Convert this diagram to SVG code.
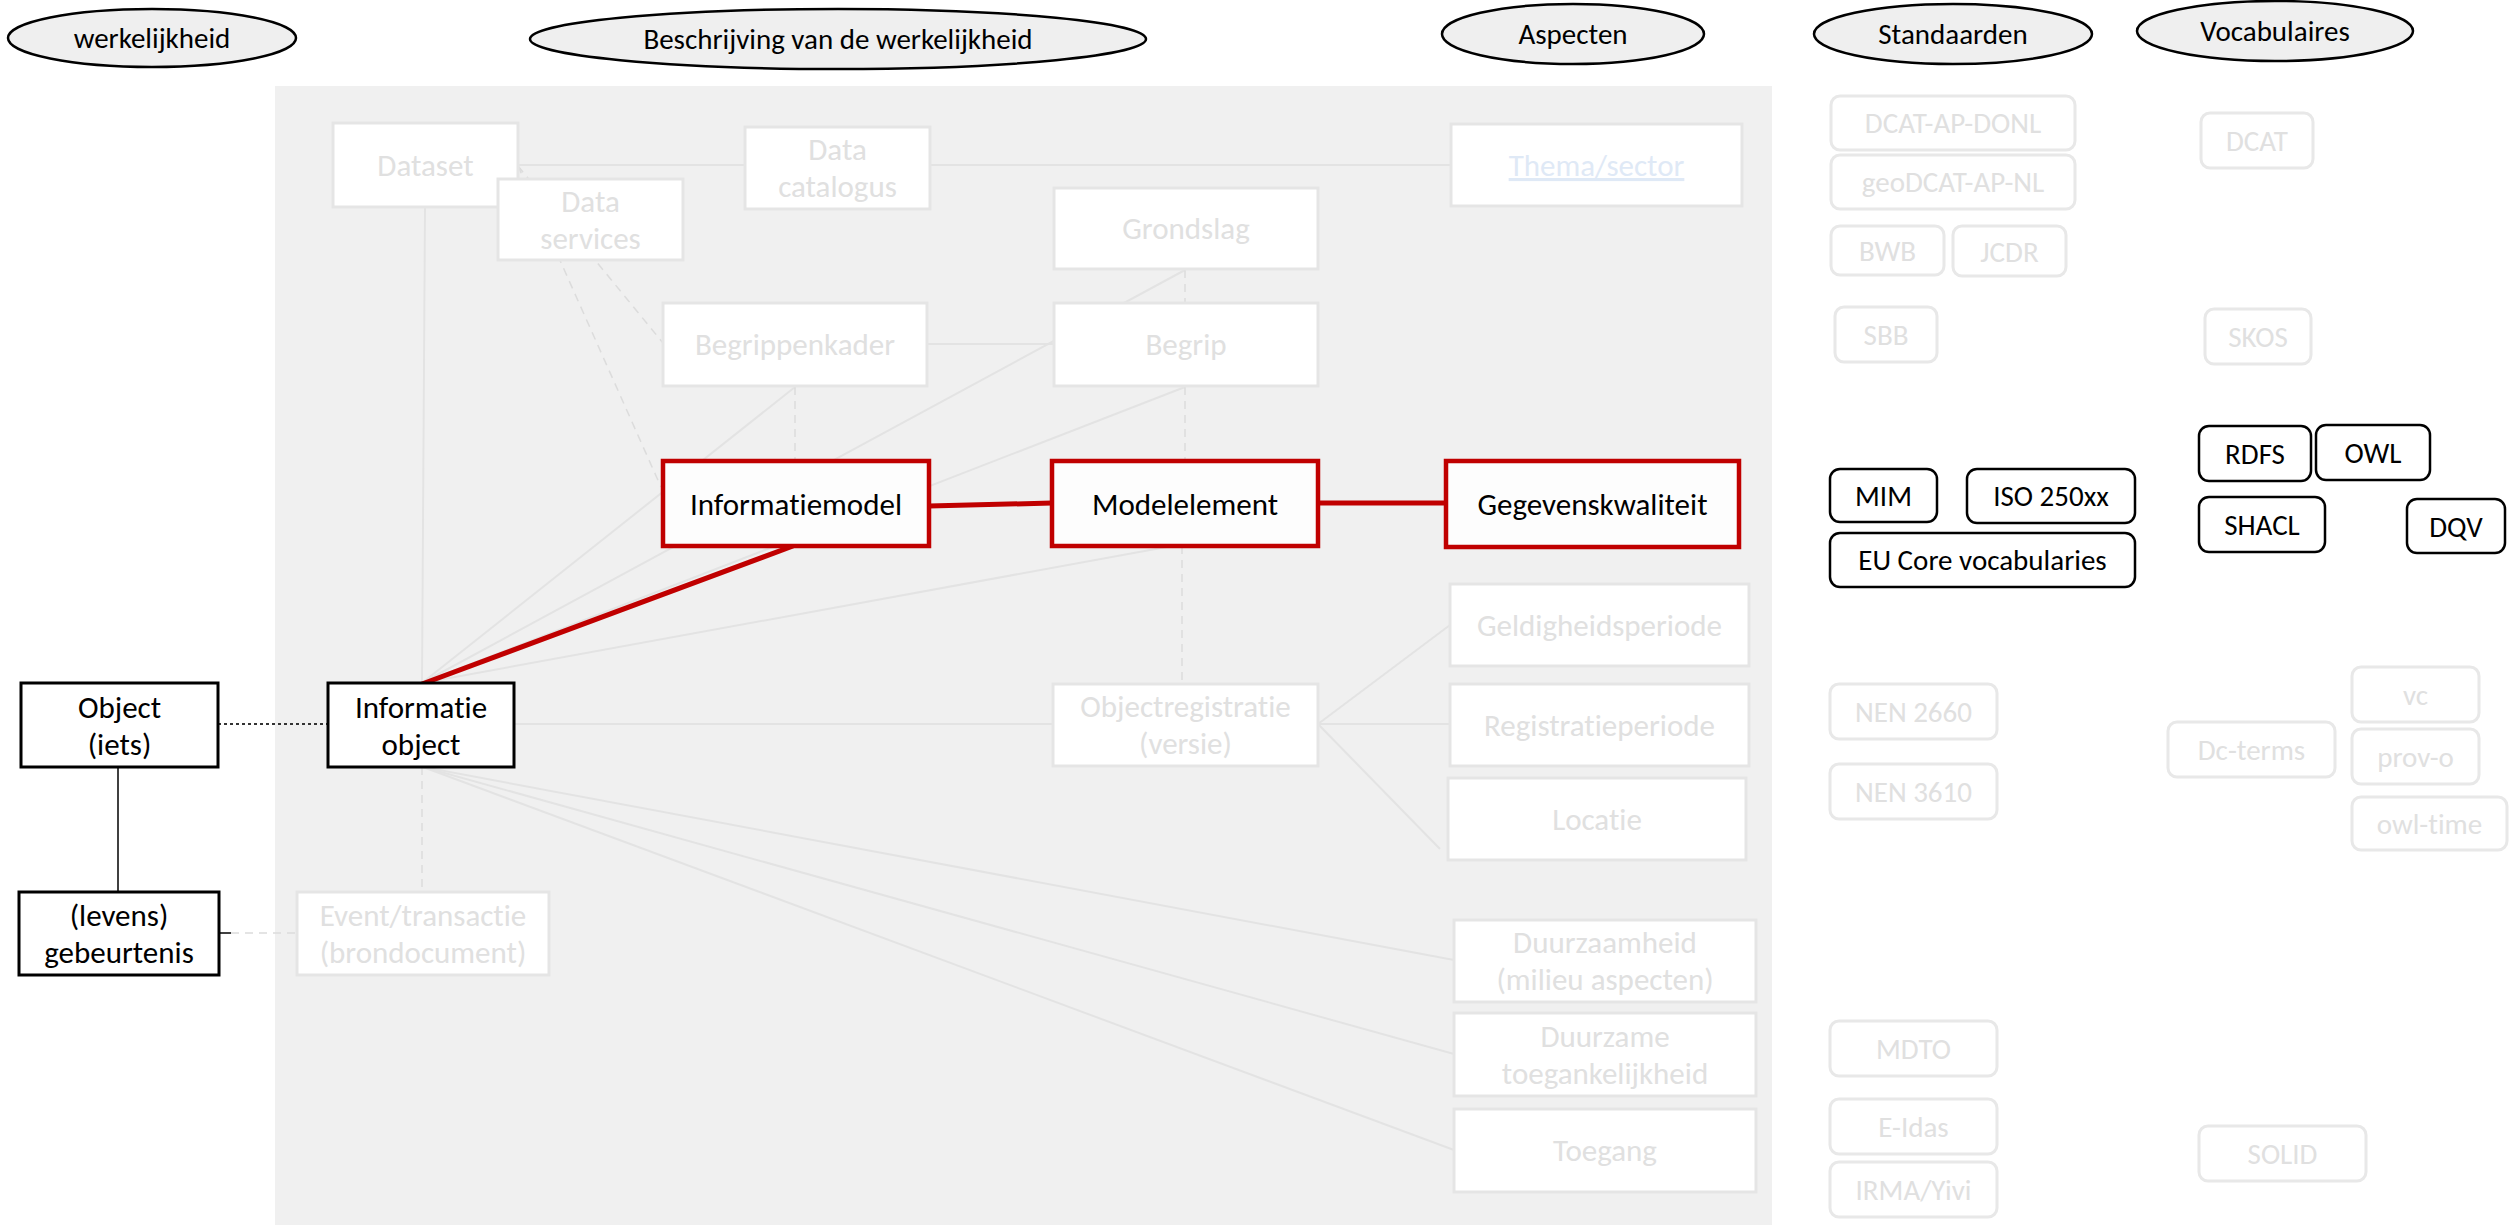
<svg xmlns="http://www.w3.org/2000/svg" width="2509" height="1225" viewBox="0 0 2509 1225">
<style>
text{font-family:Carlito,Calibri,Lato,"Liberation Sans",sans-serif;text-anchor:middle;font-variant-ligatures:none;font-feature-settings:"liga" 0;}
.hdr{fill:#efefef;stroke:#000;stroke-width:2.5;}
.ht{font-size:29px;fill:#000;}
.fade{fill:#fff;stroke:#e5e5e5;stroke-width:3;}
.ft{font-size:31px;fill:#e0e0e0;}
.fr{fill:#fff;stroke:#e8e8e8;stroke-width:3;}
.frt{font-size:29px;fill:#e0e0e0;}
.red{fill:#fdfdfd;stroke:#c00000;stroke-width:4.5;}
.blk{fill:#fff;stroke:#000;stroke-width:3;}
.bt{font-size:31px;fill:#000;}
.br{fill:#fff;stroke:#000;stroke-width:2.5;}
.brt{font-size:29px;fill:#000;}
.ln{stroke:#e3e3e3;stroke-width:2;fill:none;}
.dl{stroke:#dcdcdc;stroke-width:1.5;stroke-dasharray:8 6;fill:none;}
.rl{stroke:#c00000;stroke-width:5;fill:none;}
</style>
<rect x="0" y="0" width="2509" height="1225" fill="#fff"/>
<rect id="panel" x="275" y="86" width="1497" height="1145" fill="#f0f0f0"/>

<g id="connectors">
<line class="ln" x1="518" y1="165" x2="745" y2="165"/>
<line class="ln" x1="930" y1="165" x2="1451" y2="165"/>
<line class="ln" x1="425" y1="207" x2="422" y2="683"/>
<line class="ln" x1="927" y1="344" x2="1054" y2="344"/>
<line class="ln" x1="422" y1="683" x2="795" y2="387"/>
<line class="ln" x1="422" y1="683" x2="1185" y2="270"/>
<line class="ln" x1="422" y1="683" x2="1185" y2="387"/>
<line class="ln" x1="422" y1="683" x2="1172" y2="546"/>
<line class="ln" x1="514" y1="724" x2="1053" y2="724"/>
<line class="ln" x1="1318" y1="724" x2="1450" y2="625"/>
<line class="ln" x1="1318" y1="724" x2="1450" y2="724"/>
<line class="ln" x1="1318" y1="724" x2="1440" y2="849"/>
<line class="ln" x1="423" y1="767" x2="1454" y2="960"/>
<line class="ln" x1="423" y1="767" x2="1454" y2="1054"/>
<line class="ln" x1="423" y1="767" x2="1454" y2="1150"/>
<line class="dl" x1="518" y1="166" x2="663" y2="343"/>
<line class="dl" x1="518" y1="166" x2="661" y2="487"/>
<line class="dl" x1="795" y1="387" x2="795" y2="461"/>
<line class="dl" x1="1185" y1="270" x2="1185" y2="303"/>
<line class="dl" x1="1185" y1="387" x2="1185" y2="461"/>
<line class="dl" x1="1182" y1="546" x2="1182" y2="684"/>
<line class="dl" x1="422" y1="767" x2="422" y2="892"/>
<line class="dl" x1="231" y1="933" x2="297" y2="933"/>
<line x1="219" y1="933" x2="231" y2="933" stroke="#000" stroke-width="1.5"/>
<line x1="218" y1="724" x2="328" y2="724" stroke="#333" stroke-width="2" stroke-dasharray="3 3"/>
<line x1="118" y1="767" x2="118" y2="892" stroke="#000" stroke-width="1.5"/>
<line class="rl" x1="929" y1="506" x2="1052" y2="503"/>
<line class="rl" x1="1318" y1="503" x2="1446" y2="503"/>
<line class="rl" x1="793" y1="546" x2="422" y2="684"/>
</g>

<g id="h-werkelijkheid"><ellipse class="hdr" cx="152" cy="38" rx="144" ry="29"/><text class="ht" x="152" y="48">werkelijkheid</text></g>
<g id="h-beschrijving"><ellipse class="hdr" cx="838" cy="39" rx="308" ry="30"/><text class="ht" x="838" y="49">Beschrijving van de werkelijkheid</text></g>
<g id="h-aspecten"><ellipse class="hdr" cx="1573" cy="34" rx="131" ry="30"/><text class="ht" x="1573" y="44">Aspecten</text></g>
<g id="h-standaarden"><ellipse class="hdr" cx="1953" cy="34" rx="139" ry="30"/><text class="ht" x="1953" y="44">Standaarden</text></g>
<g id="h-vocabulaires"><ellipse class="hdr" cx="2275" cy="31" rx="138" ry="30"/><text class="ht" x="2275" y="41">Vocabulaires</text></g>

<g id="n-dataset"><rect class="fade" x="333" y="123" width="185" height="84"/><text class="ft" x="425.5" y="176">Dataset</text></g>
<g id="n-dataservices"><rect class="fade" x="498" y="179" width="185" height="81"/><text class="ft" x="590.5" y="212">Data</text><text class="ft" x="590.5" y="249">services</text></g>
<g id="n-datacatalogus"><rect class="fade" x="745" y="127" width="185" height="82"/><text class="ft" x="837.5" y="160">Data</text><text class="ft" x="837.5" y="197">catalogus</text></g>
<g id="n-grondslag"><rect class="fade" x="1054" y="188" width="264" height="81"/><text class="ft" x="1186" y="239">Grondslag</text></g>
<g id="n-begrippenkader"><rect class="fade" x="663" y="303" width="264" height="83"/><text class="ft" x="795" y="355">Begrippenkader</text></g>
<g id="n-begrip"><rect class="fade" x="1054" y="303" width="264" height="83"/><text class="ft" x="1186" y="355">Begrip</text></g>
<g id="n-thema"><rect class="fade" x="1451" y="124" width="291" height="82"/><text class="ft" x="1596.5" y="176" style="fill:#dfe9f6" text-decoration="underline">Thema/sector</text></g>
<g id="n-objectregistratie"><rect class="fade" x="1053" y="684" width="265" height="82"/><text class="ft" x="1185.5" y="717">Objectregistratie</text><text class="ft" x="1185.5" y="754">(versie)</text></g>
<g id="n-geldigheid"><rect class="fade" x="1450" y="584" width="299" height="82"/><text class="ft" x="1599.5" y="636">Geldigheidsperiode</text></g>
<g id="n-registratie"><rect class="fade" x="1450" y="684" width="299" height="82"/><text class="ft" x="1599.5" y="736">Registratieperiode</text></g>
<g id="n-locatie"><rect class="fade" x="1448" y="778" width="298" height="82"/><text class="ft" x="1597" y="830">Locatie</text></g>
<g id="n-event"><rect class="fade" x="297" y="892" width="252" height="83"/><text class="ft" x="423" y="926">Event/transactie</text><text class="ft" x="423" y="963">(brondocument)</text></g>
<g id="n-duurzaamheid"><rect class="fade" x="1454" y="920" width="302" height="82"/><text class="ft" x="1605" y="953">Duurzaamheid</text><text class="ft" x="1605" y="990">(milieu aspecten)</text></g>
<g id="n-duurzame"><rect class="fade" x="1454" y="1013" width="302" height="83"/><text class="ft" x="1605" y="1047">Duurzame</text><text class="ft" x="1605" y="1084">toegankelijkheid</text></g>
<g id="n-toegang"><rect class="fade" x="1454" y="1109" width="302" height="83"/><text class="ft" x="1605" y="1161">Toegang</text></g>

<g id="n-informatiemodel"><rect class="red" x="663" y="461" width="266" height="85"/><text class="bt" x="796" y="515">Informatiemodel</text></g>
<g id="n-modelelement"><rect class="red" x="1052" y="461" width="266" height="85"/><text class="bt" x="1185" y="515">Modelelement</text></g>
<g id="n-gegevenskwaliteit"><rect class="red" x="1446" y="461" width="293" height="86"/><text class="bt" x="1592.5" y="515">Gegevenskwaliteit</text></g>

<g id="n-object"><rect class="blk" x="21" y="683" width="197" height="84"/><text class="bt" x="119.5" y="718">Object</text><text class="bt" x="119.5" y="755">(iets)</text></g>
<g id="n-informatieobject"><rect class="blk" x="328" y="683" width="186" height="84"/><text class="bt" x="421" y="718">Informatie</text><text class="bt" x="421" y="755">object</text></g>
<g id="n-gebeurtenis"><rect class="blk" x="19" y="892" width="200" height="83"/><text class="bt" x="119" y="926">(levens)</text><text class="bt" x="119" y="963">gebeurtenis</text></g>

<g id="s-dcatapdonl"><rect class="fr" x="1831" y="96" width="244" height="54" rx="9"/><text class="frt" x="1953" y="133">DCAT-AP-DONL</text></g>
<g id="s-geodcat"><rect class="fr" x="1831" y="155" width="244" height="54" rx="9"/><text class="frt" x="1953" y="192">geoDCAT-AP-NL</text></g>
<g id="s-bwb"><rect class="fr" x="1831" y="226" width="113" height="49" rx="9"/><text class="frt" x="1887.5" y="261">BWB</text></g>
<g id="s-jcdr"><rect class="fr" x="1953" y="226" width="113" height="50" rx="9"/><text class="frt" x="2009.5" y="262">JCDR</text></g>
<g id="s-sbb"><rect class="fr" x="1835" y="307" width="102" height="55" rx="9"/><text class="frt" x="1886" y="345">SBB</text></g>
<g id="v-dcat"><rect class="fr" x="2201" y="113" width="112" height="55" rx="9"/><text class="frt" x="2257" y="151">DCAT</text></g>
<g id="v-skos"><rect class="fr" x="2205" y="309" width="106" height="55" rx="9"/><text class="frt" x="2258" y="347">SKOS</text></g>
<g id="s-nen2660"><rect class="fr" x="1830" y="684" width="167" height="55" rx="9"/><text class="frt" x="1913.5" y="722">NEN 2660</text></g>
<g id="s-nen3610"><rect class="fr" x="1830" y="764" width="167" height="55" rx="9"/><text class="frt" x="1913.5" y="802">NEN 3610</text></g>
<g id="v-dcterms"><rect class="fr" x="2168" y="722" width="167" height="55" rx="9"/><text class="frt" x="2251.5" y="760">Dc-terms</text></g>
<g id="v-vc"><rect class="fr" x="2352" y="667" width="127" height="55" rx="9"/><text class="frt" x="2415.5" y="705">vc</text></g>
<g id="v-provo"><rect class="fr" x="2352" y="729" width="127" height="55" rx="9"/><text class="frt" x="2415.5" y="767">prov-o</text></g>
<g id="v-owltime"><rect class="fr" x="2352" y="797" width="155" height="53" rx="9"/><text class="frt" x="2429.5" y="834">owl-time</text></g>
<g id="s-mdto"><rect class="fr" x="1830" y="1021" width="167" height="55" rx="9"/><text class="frt" x="1913.5" y="1059">MDTO</text></g>
<g id="s-eidas"><rect class="fr" x="1830" y="1099" width="167" height="55" rx="9"/><text class="frt" x="1913.5" y="1137">E-Idas</text></g>
<g id="s-irma"><rect class="fr" x="1830" y="1162" width="167" height="55" rx="9"/><text class="frt" x="1913.5" y="1200">IRMA/Yivi</text></g>
<g id="v-solid"><rect class="fr" x="2199" y="1126" width="167" height="55" rx="9"/><text class="frt" x="2282.5" y="1164">SOLID</text></g>

<g id="s-mim"><rect class="br" x="1830" y="469" width="107" height="53" rx="10"/><text class="brt" x="1883.5" y="506">MIM</text></g>
<g id="s-iso"><rect class="br" x="1967" y="469" width="168" height="54" rx="10"/><text class="brt" x="2051" y="506">ISO 250xx</text></g>
<g id="s-eucore"><rect class="br" x="1830" y="533" width="305" height="54" rx="10"/><text class="brt" x="1982.5" y="570">EU Core vocabularies</text></g>
<g id="v-rdfs"><rect class="br" x="2199" y="426" width="112" height="55" rx="10"/><text class="brt" x="2255" y="464">RDFS</text></g>
<g id="v-owl"><rect class="br" x="2316" y="425" width="114" height="55" rx="10"/><text class="brt" x="2373" y="463">OWL</text></g>
<g id="v-shacl"><rect class="br" x="2199" y="497" width="126" height="55" rx="10"/><text class="brt" x="2262" y="535">SHACL</text></g>
<g id="v-dqv"><rect class="br" x="2407" y="499" width="98" height="54" rx="10"/><text class="brt" x="2456" y="537">DQV</text></g>
</svg>
